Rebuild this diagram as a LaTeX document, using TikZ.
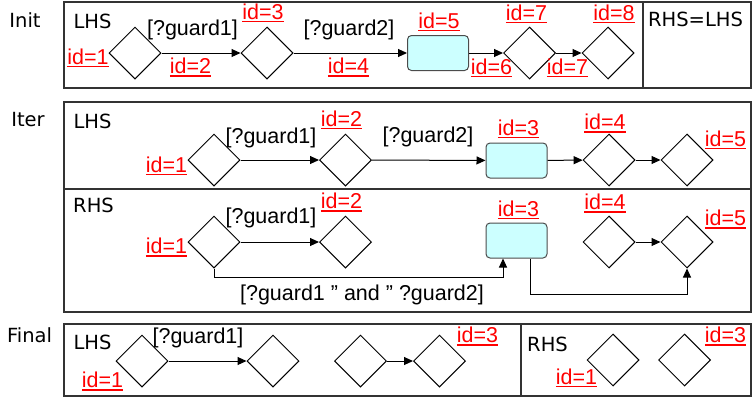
\documentclass[tikz,border=0pt]{standalone}
\usepackage{fontspec}
\setmainfont{Liberation Sans}
\newfontfamily\panelfont{DejaVu Sans}
\usetikzlibrary{arrows.meta,shapes.geometric}

\definecolor{actfill}{RGB}{204,255,255}
\definecolor{idred}{RGB}{255,0,0}

% underlined id tag
\newcommand{\idtag}[1]{\vtop{\hbox{id=#1}\kern1.5pt\hrule height 1.5pt}}

\begin{document}
\begin{tikzpicture}[x=1pt, y=-1pt,
  font=\fontsize{21.5}{24}\selectfont,
  state/.style={diamond, draw=black, line width=1pt, minimum width=52pt,
                minimum height=52pt, inner sep=0pt},
  act/.style={draw=black!70, line width=1pt, rounded corners=4pt, fill=actfill,
              minimum width=61pt, minimum height=35pt, inner sep=0pt},
  idlab/.style={text=idred, inner sep=0pt},
  guard/.style={inner sep=0pt},
  tag/.style={font=\panelfont\fontsize{19.5}{22}\selectfont, inner sep=0pt},
  panel/.style={draw=black!80, line width=2pt},
  edge/.style={draw=black, line width=1pt, -{Triangle[length=9pt,width=8pt]}}
]
\useasboundingbox (0,0) rectangle (752,397);

% frames
\draw[panel] (64,2) rectangle (751,88);
\draw[panel] (643,2) -- (643,88);
\draw[panel] (64,102) rectangle (751,312);
\draw[panel] (64,189) -- (751,189);
\draw[panel] (64,324) rectangle (751,396);
\draw[panel] (521,324) -- (521,396);

% Init
\node[tag] (tinit) at (25,20) {Init};
\node[tag] (tlhs0) at (92.5,21.5) {LHS};
\node[tag] (teq) at (695.5,19.5) {RHS=LHS};
\node[state] (i1) at (135,53) {};
\node[state] (i2) at (267,53) {};
\node[act] (ia) at (438,53) {};
\node[state] (i3) at (529.5,53) {};
\node[state] (i4) at (608,53) {};
\draw[edge] (i1) -- (i2);
\draw[edge] (i2) -- (ia);
\draw[edge] (ia) -- (i3);
\draw[edge] (i3) -- (i4);
\node[guard] (ig1) at (192.5,29.5) {[?guard1]};
\node[guard] (ig2) at (349,29.5) {[?guard2]};
\node[idlab] at (88,58) {\idtag{1}};
\node[idlab] at (190.5,67.5) {\idtag{2}};
\node[idlab] at (263,13) {\idtag{3}};
\node[idlab] at (348.5,67.5) {\idtag{4}};
\node[idlab] at (439,22) {\idtag{5}};
\node[idlab] at (491.5,68) {\idtag{6}};
\node[idlab] at (526.5,14) {\idtag{7}};
\node[idlab] at (567.5,68) {\idtag{7}};
\node[idlab] at (614,14) {\idtag{8}};

% Iter, left side
\node[tag] (titer) at (28,120) {Iter};
\node[tag] (tlhs1) at (92.5,121.5) {LHS};
\node[state] (l1) at (214,160) {};
\node[state] (l2) at (345.5,160) {};
\node[act] (la) at (516.5,160.5) {};
\node[state] (l4) at (609,160) {};
\node[state] (l5) at (687,160) {};
\draw[edge] (l1) -- (l2);
\draw[edge] (l2) -- (la);
\draw[edge] (la) -- (l4);
\draw[edge] (l4) -- (l5);
\node[guard] (lg1) at (271,137.5) {[?guard1]};
\node[guard] (lg2) at (428,137) {[?guard2]};
\node[idlab] at (166.5,166) {\idtag{1}};
\node[idlab] at (341.5,120) {\idtag{2}};
\node[idlab] at (518.5,129) {\idtag{3}};
\node[idlab] at (605,123.5) {\idtag{4}};
\node[idlab] at (725.5,140) {\idtag{5}};

% Iter, right side
\node[tag] (trhs1) at (93.5,205.5) {RHS};
\node[state] (r1) at (214,242) {};
\node[state] (r2) at (345.5,242) {};
\node[act] (ra) at (516.5,240.5) {};
\node[state] (r4) at (609,242) {};
\node[state] (r5) at (687,242) {};
\draw[edge] (r1) -- (r2);
\draw[edge] (r4) -- (r5);
\draw[edge] (r1.south) -- ++(0,9) -| ([xshift=-13.5pt]ra.south);
\draw[edge] ([xshift=13.5pt]ra.south) -- ++(0,36) -| (r5.south);
\node[guard] (rg1) at (271,218) {[?guard1]};
\node[guard] (rg12) at (362,295) {[?guard1 ” and ” ?guard2]};
\node[idlab] at (166.5,247.5) {\idtag{1}};
\node[idlab] at (341.5,202.5) {\idtag{2}};
\node[idlab] at (518.5,210) {\idtag{3}};
\node[idlab] at (605,203.5) {\idtag{4}};
\node[idlab] at (725.5,219.5) {\idtag{5}};

% Final
\node[tag] (tfinal) at (29.5,335.5) {Final};
\node[tag] (tlhs2) at (92.5,342.5) {LHS};
\node[tag] (trhs2) at (547.5,344.5) {RHS};
\node[state] (f1) at (142,361) {};
\node[state] (f2) at (273,361) {};
\node[state] (f3) at (360.5,361) {};
\node[state] (f4) at (439.5,361) {};
\node[state] (g1) at (613,360) {};
\node[state] (g2) at (684.5,360) {};
\draw[edge] (f1) -- (f2);
\draw[edge] (f3) -- (f4);
\node[guard] (fg1) at (198,338) {[?guard1]};
\node[idlab] at (102.5,381.5) {\idtag{1}};
\node[idlab] at (477.5,336.5) {\idtag{3}};
\node[idlab] at (576.5,378) {\idtag{1}};
\node[idlab] at (725.5,336.5) {\idtag{3}};
\end{tikzpicture}
\end{document}
